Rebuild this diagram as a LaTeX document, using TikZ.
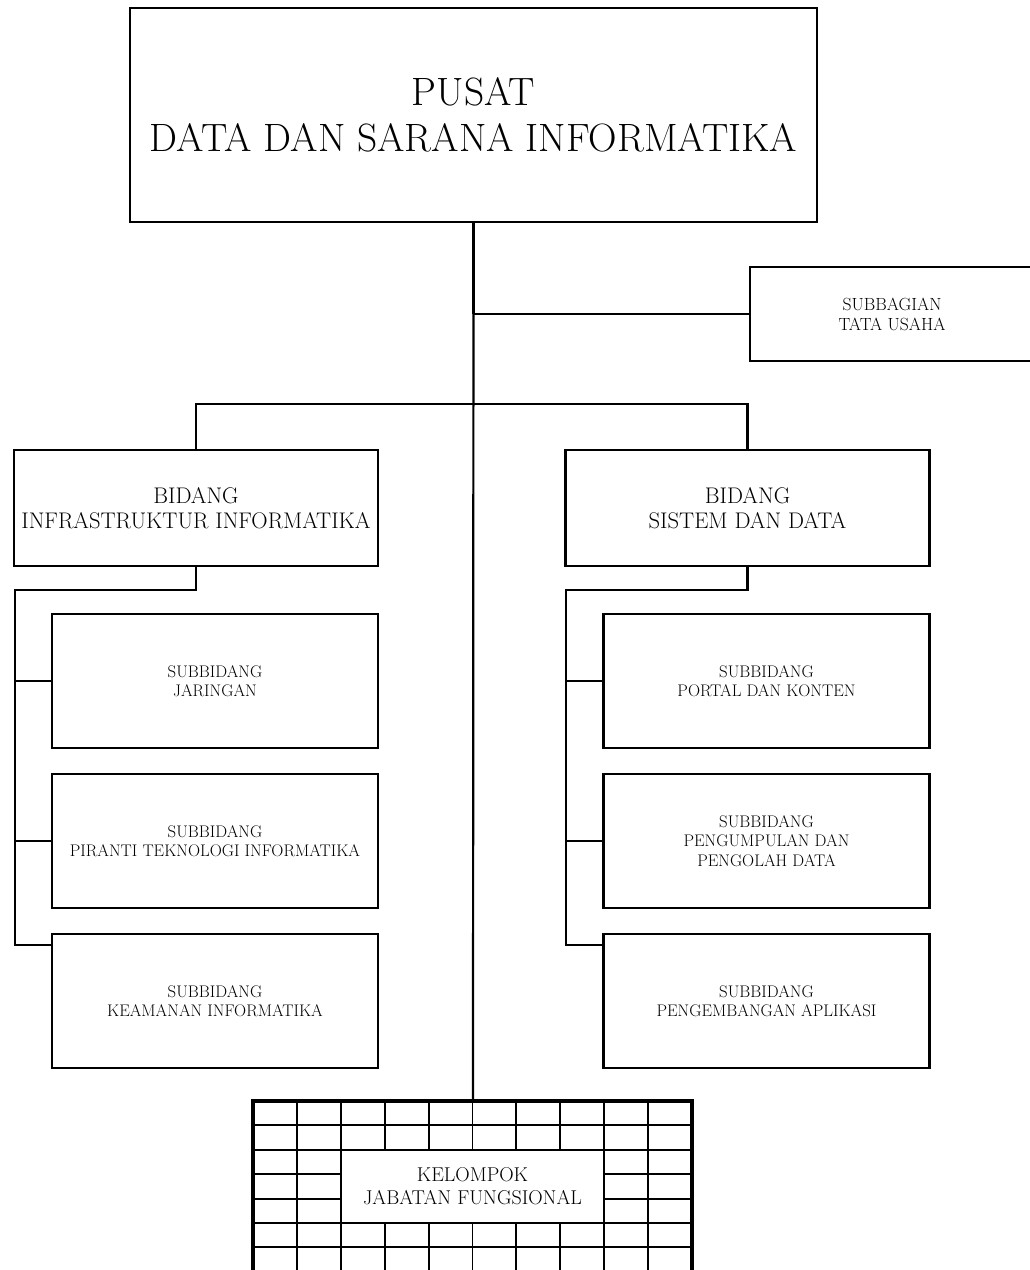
\documentclass[tikz,border=0pt]{standalone}
\usetikzlibrary{positioning}

\begin{document}
\begin{tikzpicture}[
    x=1pt, y=-1pt,
    box/.style={draw, line width=2.2pt, align=center, inner sep=0pt},
    pusatbox/.style={box, minimum width=687pt, minimum height=214pt,
                font=\fontsize{39.5}{46}\selectfont},
    tubox/.style={box, minimum width=284pt, minimum height=94pt,
                font=\fontsize{17.6}{20}\selectfont},
    bidbox/.style={box, minimum width=364pt, minimum height=116pt,
                font=\fontsize{22.6}{24.5}\selectfont},
    subbox/.style={box, minimum width=326pt, minimum height=134pt,
                font=\fontsize{16.8}{19.5}\selectfont},
    link/.style={line width=2.2pt},
    cell/.style={line width=1.9pt},
]
\useasboundingbox (0,0) rectangle (1029,1270);

\node[pusatbox] (pusat) at (473.5,115) {PUSAT\\DATA DAN SARANA INFORMATIKA};
\node[tubox] (tu) at (892,314) {SUBBAGIAN\\TATA USAHA};
\node[bidbox] (bidinf) at (196,508) {BIDANG\\INFRASTRUKTUR INFORMATIKA};
\node[bidbox] (bidsis) at (747.5,508) {BIDANG\\SISTEM DAN DATA};

\node[subbox] (jar) at (215,681) {SUBBIDANG\\JARINGAN};
\node[subbox] (pti) at (215,841) {SUBBIDANG\\PIRANTI TEKNOLOGI INFORMATIKA};
\node[subbox] (kea) at (215,1001) {SUBBIDANG\\KEAMANAN INFORMATIKA};
\node[subbox] (por) at (766.5,681) {SUBBIDANG\\PORTAL DAN KONTEN};
\node[subbox] (peng) at (766.5,841) {SUBBIDANG\\PENGUMPULAN DAN\\PENGOLAH DATA};
\node[subbox] (apl) at (766.5,1001) {SUBBIDANG\\PENGEMBANGAN APLIKASI};

% kelompok jabatan fungsional: grid of cells round the label
\coordinate (gtop) at (473,1101);
\foreach \i in {1,...,9}
  \draw[cell] (253+43.9*\i,1101) -- (253+43.9*\i,1290);
\foreach \j in {1,...,6}
  \draw[cell] (253,1101+24.4*\j) -- (692,1101+24.4*\j);
\node[fill=white, draw, line width=1.9pt, minimum width=263.4pt, minimum height=73.2pt,
      inner sep=0pt, align=center, font=\fontsize{20}{23}\selectfont]
  (kjf) at (472.5,1186.4) {KELOMPOK\\JABATAN FUNGSIONAL};
\draw[line width=3.2pt] (253,1290) -- (253,1101) -- (692,1101) -- (692,1290);

% trunk and branches
\draw[link] (pusat.south) -- (gtop);
\draw[line width=3pt] (pusat.south) -- (pusat.south |- tu.west);
\draw[link] (pusat.south |- tu.west) -- (tu.west);
\coordinate (split) at (473,404);
\draw[link] (bidinf.north) |- (split) -| (bidsis.north);

% left rail
\coordinate (lturn) at (15,590);
\coordinate (lend) at (15,945);
\draw[link] (bidinf.south) |- (lturn) -- (lend) -- (lend -| kea.west);
\draw[link] (lturn |- jar.west) -- (jar.west);
\draw[link] (lturn |- pti.west) -- (pti.west);

% right rail
\coordinate (rturn) at (566,590);
\coordinate (rend) at (566,945);
\draw[link] (bidsis.south) |- (rturn) -- (rend) -- (rend -| apl.west);
\draw[link] (rturn |- por.west) -- (por.west);
\draw[link] (rturn |- peng.west) -- (peng.west);
\end{tikzpicture}
\end{document}
